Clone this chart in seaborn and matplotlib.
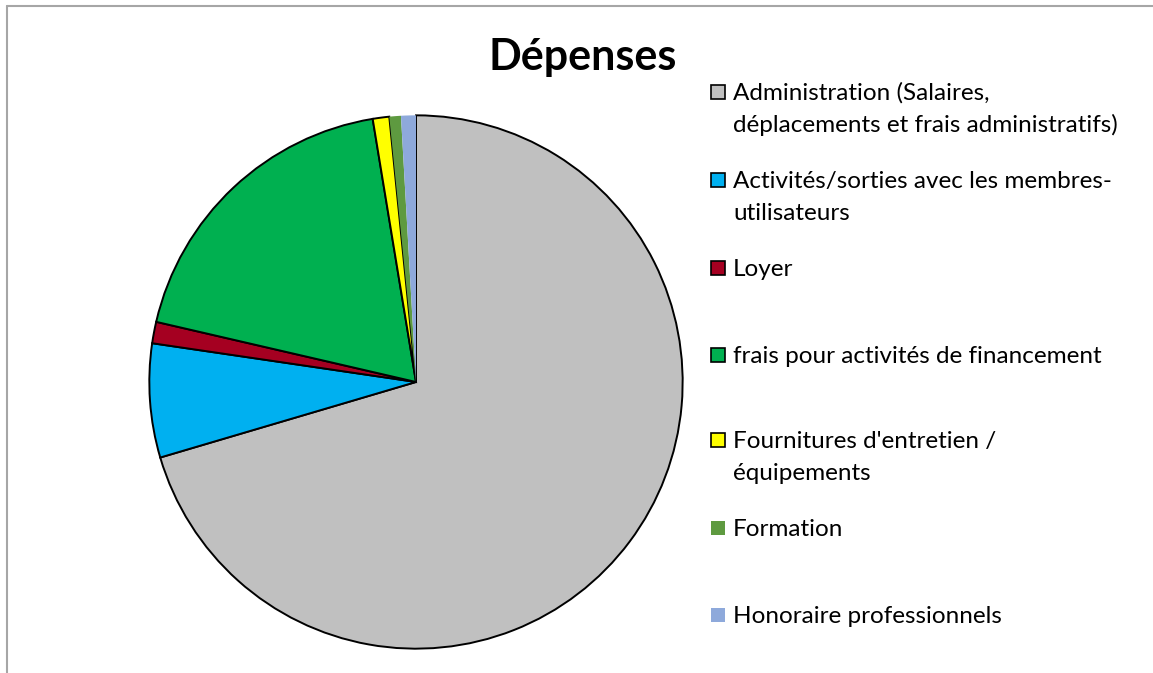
import matplotlib
matplotlib.use("Agg")
import matplotlib.pyplot as plt
import seaborn as sns
from matplotlib.patches import Rectangle
from matplotlib.lines import Line2D

sns.set_theme(style="white")
plt.rcParams['font.family'] = ['Lato', 'DejaVu Sans']

# Data (percent of total expenses)
categories = [
    "Administration (Salaires,\ndéplacements et frais administratifs)",
    "Activités/sorties avec les membres-\nutilisateurs",
    "Loyer",
    "frais pour activités de financement",
    "Fournitures d'entretien /\néquipements",
    "Formation",
    "Honoraire professionnels",
]
values = [70.5, 6.9, 1.3, 18.8, 1.0, 0.7, 0.9]
colors = ["#C0C0C0", "#00B0F0", "#A50021", "#00B050", "#FFFF00", "#5E9A40", "#8EA9DB"]
outlined = [True, True, True, True, True, False, False]

W, H = 1153, 673
fig = plt.figure(figsize=(W / 100, H / 100), dpi=100)
fig.patch.set_facecolor("white")

# outer frame
fig.add_artist(Line2D([7 / W, 7 / W], [0, 1 - 6 / H], transform=fig.transFigure, color="#A6A6A6", lw=1.5))
fig.add_artist(Line2D([7 / W, 1], [1 - 6 / H, 1 - 6 / H], transform=fig.transFigure, color="#A6A6A6", lw=1.5))

cx, cy, r = 416, 382, 268
ax = fig.add_axes([(cx - r) / W, (H - cy - r) / H, 2 * r / W, 2 * r / H])
wedges, _ = ax.pie(values, colors=colors, startangle=90, counterclock=False,
                   radius=1, wedgeprops=dict(linewidth=1.4, edgecolor="black"))
for w, o in zip(wedges, outlined):
    if not o:
        w.set_edgecolor("none")
        w.set_linewidth(0)
ax.set_xlim(-1.005, 1.005)
ax.set_ylim(-1.005, 1.005)
ax.axis("off")

fig.text(583 / W, 1 - 70 / H, "Dépenses", ha="center", va="baseline",
         fontsize=31, fontweight="bold", color="black")

# legend (manual layout)
rows_y = [92, 180, 268, 355, 440, 528, 615]
for lab, col, o, y in zip(categories, colors, outlined, rows_y):
    fig.add_artist(Rectangle((711 / W, 1 - (y + 7) / H), 14 / W, 14 / H,
                             transform=fig.transFigure, facecolor=col,
                             edgecolor="black" if o else "none", lw=1.2))
    for i, line in enumerate(lab.split("\n")):
        fig.text(733 / W, 1 - (y + 8 + 32 * i) / H, line, ha="left", va="baseline",
                 fontsize=17.5, color="black")

fig.savefig("out.png", dpi=100, facecolor="white")
